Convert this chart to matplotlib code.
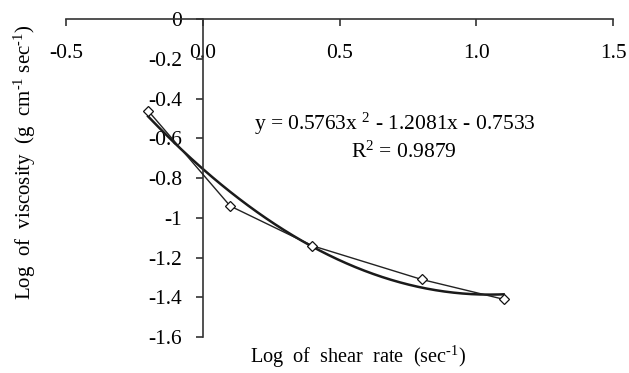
import numpy as np
import matplotlib
matplotlib.use("Agg")
import matplotlib.pyplot as plt

plt.rcParams['font.family'] = ['Liberation Serif', 'DejaVu Serif']
plt.rcParams['mathtext.fontset'] = 'custom'
plt.rcParams['mathtext.rm'] = 'Liberation Serif'
plt.rcParams['mathtext.it'] = 'Liberation Serif:italic'

# measured points (log shear rate, log viscosity)
log_shear = [-0.2, 0.1, 0.4, 0.8, 1.1]
log_visc = [-0.46, -0.94, -1.14, -1.31, -1.41]

# 2nd order trendline as printed on the chart
coef = [0.5763, -1.2081, -0.7533]
r2 = 0.9879

xticks = [-0.5, 0.0, 0.5, 1.0, 1.5]
xtick_labels = ['-0.5', '0.0', '0.5', '1.0', '1.5']
yticks = [0, -0.2, -0.4, -0.6, -0.8, -1.0, -1.2, -1.4, -1.6]
ytick_labels = ['0', '-0.2', '-0.4', '-0.6', '-0.8', '-1', '-1.2', '-1.4', '-1.6']

fig = plt.figure(figsize=(6.29, 3.73), dpi=100)
ax = fig.add_axes([0.105, 0.0965, 0.8696, 0.8515])

# trendline
xt = np.linspace(log_shear[0], log_shear[-1], 200)
ax.plot(xt, np.polyval(coef, xt), color='#1a1a1a', lw=1.8, zorder=2)

# data series
ax.plot(log_shear, log_visc, color='#222222', lw=1.0, marker='D', ms=5,
        mfc='white', mec='#111111', mew=0.9, zorder=3)

ax.set_xlim(-0.5, 1.5)
ax.set_ylim(-1.6, 0)

ax.spines['right'].set_visible(False)
ax.spines['top'].set_visible(False)
ax.spines['bottom'].set_position(('data', 0))
ax.spines['left'].set_position(('data', 0))
for s in ('bottom', 'left'):
    ax.spines[s].set_linewidth(1.2)
    ax.spines[s].set_color('#333333')

ax.set_xticks(xticks)
ax.set_xticklabels(xtick_labels)
ax.set_yticks(yticks)
ax.set_yticklabels(ytick_labels)
ax.tick_params(axis='x', direction='out', length=5, width=1.2, color='#333333',
               labelsize=15.5, pad=13)
ax.tick_params(axis='y', direction='out', length=5, width=1.2, color='#333333',
               labelsize=15.5, pad=10)
ax.patch.set_visible(False)

fig.text(395 / 629, 1 - 124 / 373,
         'y = 0.5763x $^{2}$ - 1.2081x - 0.7533',
         ha='center', va='center', fontsize=15.5)
fig.text(404 / 629, 1 - 152 / 373, 'R$^{2}$ = %.4f' % r2,
         ha='center', va='center', fontsize=15.5)

fig.text(358 / 629, 1 - 357 / 373, r'Log  of  shear  rate  (sec$^{\text{-1}}$)',
         ha='center', va='center', fontsize=14.6)
fig.text(25 / 629, 1 - 162 / 373, r'Log  of  viscosity  (g  cm$^{\text{-1}}$ sec$^{\text{-1}}$)',
         ha='center', va='center', rotation=90, fontsize=15)

fig.savefig('out.png', dpi=100)
